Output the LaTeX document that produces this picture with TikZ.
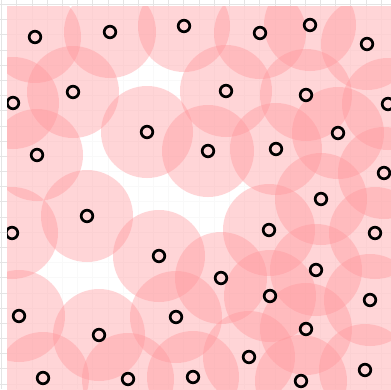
\documentclass[tikz,border=0pt]{standalone}
\usepackage{xcolor}
\definecolor{zonepink}{RGB}{255,150,155}
\definecolor{gridgray}{RGB}{228,228,228}
\tikzset{
  zone/.style={fill=zonepink, fill opacity=0.4},
  site/.style={draw=black, line width=2.7pt},
}

\begin{document}
\begin{tikzpicture}[x=1pt, y=-1pt]
\useasboundingbox (0,0) rectangle (391,389);
% Background grid
\foreach \i in {0,...,25} {
  \draw[gridgray, line width=0.8pt] ({1.7+15.18*\i},0) -- ({1.7+15.18*\i},389);
  \draw[gridgray, line width=0.8pt] (0,{4.5+15.18*\i}) -- (391,{4.5+15.18*\i});
}
% Plot area
\begin{scope}
\clip (7,6) rectangle (391,389);
\fill[white, opacity=0.8] (7,6) rectangle (391,389);
% Coverage zones
\foreach \p in {(35,37),(110,32),(184,26),(260,33),(310,25),(367,44),
  (13,103),(73,92),(226,91),(306,95),(388,104),(147,132),(338,133),
  (37,155),(208,151),(276,149),(384,173),(321,199),(87,216),(12,233),
  (269,230),(375,233),(159,256),(316,270),(221,278),(270,296),(370,300),
  (19,316),(176,317),(99,335),(306,329),(249,357),(365,370),(43,378),
  (128,379),(193,377),(301,381)}
  \fill[zone] \p circle[radius=46pt];
% Sites
\foreach \p in {(35,37),(110,32),(184,26),(260,33),(310,25),(367,44),
  (13,103),(73,92),(226,91),(306,95),(388,104),(147,132),(338,133),
  (37,155),(208,151),(276,149),(384,173),(321,199),(87,216),(12,233),
  (269,230),(375,233),(159,256),(316,270),(221,278),(270,296),(370,300),
  (19,316),(176,317),(99,335),(306,329),(249,357),(365,370),(43,378),
  (128,379),(193,377),(301,381)}
  \draw[site] \p circle[radius=5.8pt];
\end{scope}
\end{tikzpicture}
\end{document}
